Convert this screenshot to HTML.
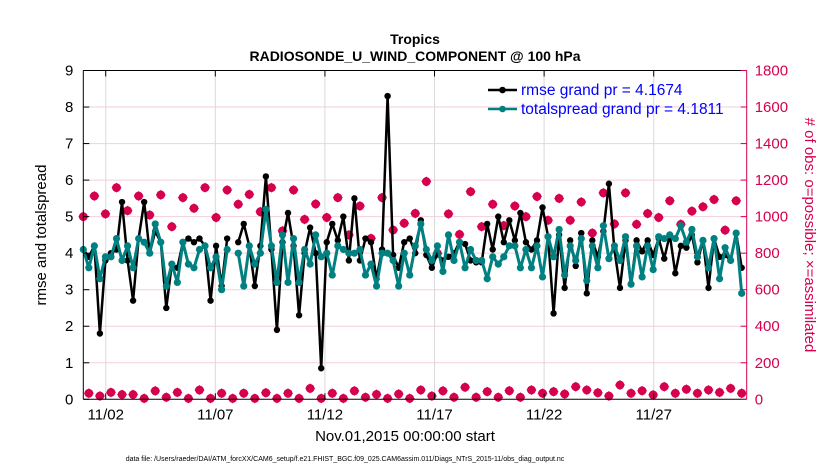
<!DOCTYPE html>
<html><head><meta charset="utf-8">
<style>
html,body{margin:0;padding:0;background:#fff;}
svg{display:block;font-family:"Liberation Sans",Arial,sans-serif;}
</style></head>
<body>
<svg id="chart" width="830" height="470" viewBox="0 0 830 470" xmlns="http://www.w3.org/2000/svg">
  <rect x="0" y="0" width="830" height="470" fill="#fff"/>
  <text x="415" y="44" text-anchor="middle" font-size="14" font-weight="bold">Tropics</text>
  <text x="415" y="61" text-anchor="middle" font-size="14" font-weight="bold">RADIOSONDE_U_WIND_COMPONENT @ 100 hPa</text>
  <g id="grid"></g>
  <g id="obs"></g>
  <g id="lines"></g>
  <g id="axes"></g>
  <g id="legend"></g>
  <text x="405" y="441" text-anchor="middle" font-size="15">Nov.01,2015 00:00:00 start</text>
  <text x="345" y="461" text-anchor="middle" font-size="7">data file: /Users/raeder/DAI/ATM_forcXX/CAM6_setup/f.e21.FHIST_BGC.f09_025.CAM6assim.011/Diags_NTrS_2015-11/obs_diag_output.nc</text>
  <text transform="translate(46,235) rotate(-90)" text-anchor="middle" font-size="15">rmse and totalspread</text>
  <text transform="translate(805,235) rotate(90)" text-anchor="middle" font-size="15" fill="#d6004f"># of obs: o=possible; ×=assimilated</text>
</svg>
<script>
const rmse = [4.1,3.9,4.2,1.8,3.8,4.0,4.1,5.4,3.8,2.7,4.4,5.4,4.0,4.6,4.3,2.5,3.7,3.6,4.3,4.4,
4.3,4.4,4.2,2.7,4.2,3.1,4.4,null,4.3,4.8,4.2,3.1,4.2,6.1,4.1,1.9,4.3,5.1,4.2,2.3,
4.0,4.7,4.0,0.85,4.3,4.8,4.35,5.0,3.8,5.5,3.8,4.4,4.3,3.3,4.1,8.3,3.95,3.6,4.3,4.4,
4.0,4.9,3.95,3.6,4.0,3.8,3.9,4.0,4.3,4.25,3.8,3.75,3.75,4.8,4.1,5.0,4.3,4.9,4.35,5.1,
4.3,4.1,4.35,5.25,4.45,2.35,4.5,3.05,4.35,3.65,4.55,2.9,4.35,3.9,4.6,5.9,4.1,3.05,4.35,3.15,
4.35,4.05,4.35,3.95,4.4,3.85,4.5,3.45,4.2,4.15,4.5,3.75,4.35,3.05,4.4,3.9,3.95,3.8,4.55,3.6];
const spread = [4.1,3.6,4.2,3.3,3.9,3.9,4.4,3.8,4.2,3.6,4.4,4.3,4.0,4.8,4.3,3.1,3.7,3.2,4.3,3.7,
3.6,4.1,4.2,3.6,3.9,3.0,4.1,null,4.0,3.1,4.2,3.7,4.0,5.2,4.2,3.2,4.5,3.2,4.4,3.2,
4.1,3.7,4.5,3.9,4.0,3.4,4.2,4.1,4.0,4.0,4.1,3.4,3.7,3.1,4.0,4.0,3.8,3.1,4.0,3.4,
4.2,4.8,4.1,3.8,4.2,3.5,4.5,3.8,4.3,3.6,4.1,3.8,3.8,3.3,3.9,3.7,3.9,4.2,4.2,3.6,
4.1,3.6,4.2,3.35,4.45,3.9,4.65,3.4,4.2,3.8,4.4,3.25,4.2,3.6,4.75,3.85,4.2,3.8,4.45,3.15,
4.2,3.35,4.2,3.55,4.45,4.4,4.5,4.4,4.75,4.3,4.65,3.9,4.35,3.6,4.4,3.3,4.15,3.8,4.55,2.9];
// possible obs at even time indices, assimilated obs at odd time indices
const obsPossible = [1000,1113,1015,1159,1033,1113,1009,1119,945,1104,
1046,1159,995,1146,1068,1122,1027,1159,922,1146,
985,1069,995,1104,900,1058,881,1104,927,964,
1018,1192,799,1015,903,1137,945,1068,951,1058,
1000,1110,980,1100,980,1080,910,1130,960,1130,
958,1017,995,1087,958,1030,1054,1094,926,1087];
const obsAssim = [33,18,38,26,26,5,46,11,38,5,
51,5,33,5,33,5,36,5,33,5,
60,5,33,5,46,11,27,5,29,5,
51,18,46,11,66,11,42,11,47,11,
51,33,42,29,69,51,36,18,78,33,
47,24,69,33,55,33,51,38,60,33];
const leftTicks = [0,1,2,3,4,5,6,7,8,9];
const rightTicks = [0,200,400,600,800,1000,1200,1400,1600,1800];
const xTickLabels = ["11/02","11/07","11/12","11/17","11/22","11/27"];
const xTickDays = [1,6,11,16,21,26];

const NS = "http://www.w3.org/2000/svg";
const L = 83.3, R = 746.7, T = 70.5, B = 399.3;
const N = rmse.length;
function xi(i){ return 83.3 + i * (741.7 - 83.3) / (N - 1); }
function xd(d){ return 83.8 + d * 21.92; }
function yl(v){ return B - (v / 9) * (B - T); }
function yr(v){ return B - (v / 1800) * (B - T); }
function mk(tag, attrs, parent){ const e = document.createElementNS(NS, tag); for (const k in attrs) e.setAttribute(k, attrs[k]); parent.appendChild(e); return e; }

const grid = document.getElementById('grid');
leftTicks.forEach(v => { if (v > 0 && v < 9) {
  const g = mk('line', {x1:L, x2:R, y1:yl(v), y2:yl(v), stroke:'#f3cfdc', 'stroke-width':1}, grid);
  
  
}});
xTickDays.forEach(d => {
  const g = mk('line', {x1:xd(d), x2:xd(d), y1:T, y2:B, stroke:'#d9d9d9', 'stroke-width':1}, grid);
  
  
});

const obs = document.getElementById('obs');
const pink = '#d6004f';
function obsMarker(x, y, name){
  const g = mk('g', {}, obs);
  
  
  mk('path', {d:`M${x-5},${y} L${x},${y-5} L${x+5},${y} L${x},${y+5} Z`, fill:pink}, g);
  mk('circle', {cx:x, cy:y, r:3.6, fill:'none', stroke:pink, 'stroke-width':1.6}, g);
}
obsPossible.forEach((v, k) => obsMarker(xi(2*k), yr(v), 'obs-possible-point'));
obsAssim.forEach((v, k) => obsMarker(xi(2*k+1), yr(v), 'obs-assimilated-point'));

const lines = document.getElementById('lines');
function drawSeries(arr, color, w, r, name){
  const g = mk('g', {}, lines);
  
  
  let d = '', pen = false;
  arr.forEach((v, i) => {
    if (v === null) { pen = false; return; }
    d += (pen ? 'L' : 'M') + xi(i).toFixed(1) + ',' + yl(v).toFixed(1) + ' ';
    pen = true;
  });
  const p = mk('path', {d:d, fill:'none', stroke:color, 'stroke-width':w, 'stroke-linejoin':'round'}, g);
  
  
  arr.forEach((v, i) => {
    if (v === null) return;
    const c = mk('circle', {cx:xi(i), cy:yl(v), r:r, fill:color}, g);
    
    
  });
}
drawSeries(rmse, '#000', 2.5, 3.2, 'rmse-series');
drawSeries(spread, '#008080', 3, 3.6, 'totalspread-series');

const axes = document.getElementById('axes');
mk('line', {x1:L, x2:R, y1:T, y2:T, stroke:'#000', 'stroke-width':1}, axes);
mk('line', {x1:L, x2:R, y1:B, y2:B, stroke:'#000', 'stroke-width':1}, axes);
mk('line', {x1:L, x2:L, y1:T, y2:B, stroke:'#000', 'stroke-width':1}, axes);
mk('line', {x1:R, x2:R, y1:T, y2:B, stroke:pink, 'stroke-width':1}, axes);
leftTicks.forEach(v => {
  mk('line', {x1:L, x2:L+6, y1:yl(v), y2:yl(v), stroke:'#000'}, axes);
  const t = mk('text', {x:L-10, y:yl(v)+5, 'text-anchor':'end', 'font-size':15}, axes);
  t.textContent = v;
  
  
});
rightTicks.forEach(v => {
  mk('line', {x1:R-6, x2:R, y1:yr(v), y2:yr(v), stroke:pink}, axes);
  const t = mk('text', {x:R+8, y:yr(v)+5, 'text-anchor':'start', 'font-size':15, fill:pink}, axes);
  t.textContent = v;
  
  
});
xTickDays.forEach((d, k) => {
  mk('line', {x1:xd(d), x2:xd(d), y1:B-6, y2:B, stroke:'#000'}, axes);
  mk('line', {x1:xd(d), x2:xd(d), y1:T, y2:T+6, stroke:'#000'}, axes);
  const t = mk('text', {x:xd(d), y:B+20, 'text-anchor':'middle', 'font-size':15}, axes);
  t.textContent = xTickLabels[k];
  
  
});

const lg = document.getElementById('legend');
[['rmse grand pr = 4.1674', '#000', 90, 'legend-entry-rmse'], ['totalspread grand pr = 4.1811', '#008080', 109, 'legend-entry-totalspread']].forEach(e => {
  const g = mk('g', {}, lg);
  
  
  mk('line', {x1:488, x2:517, y1:e[2], y2:e[2], stroke:e[1], 'stroke-width':2.5}, g);
  mk('circle', {cx:502.5, cy:e[2], r:3.3, fill:e[1]}, g);
  const t = mk('text', {x:521, y:e[2]+5, 'font-size':15.5, fill:'#0000ff'}, g);
  t.textContent = e[0];
});
</script>
</body></html>
